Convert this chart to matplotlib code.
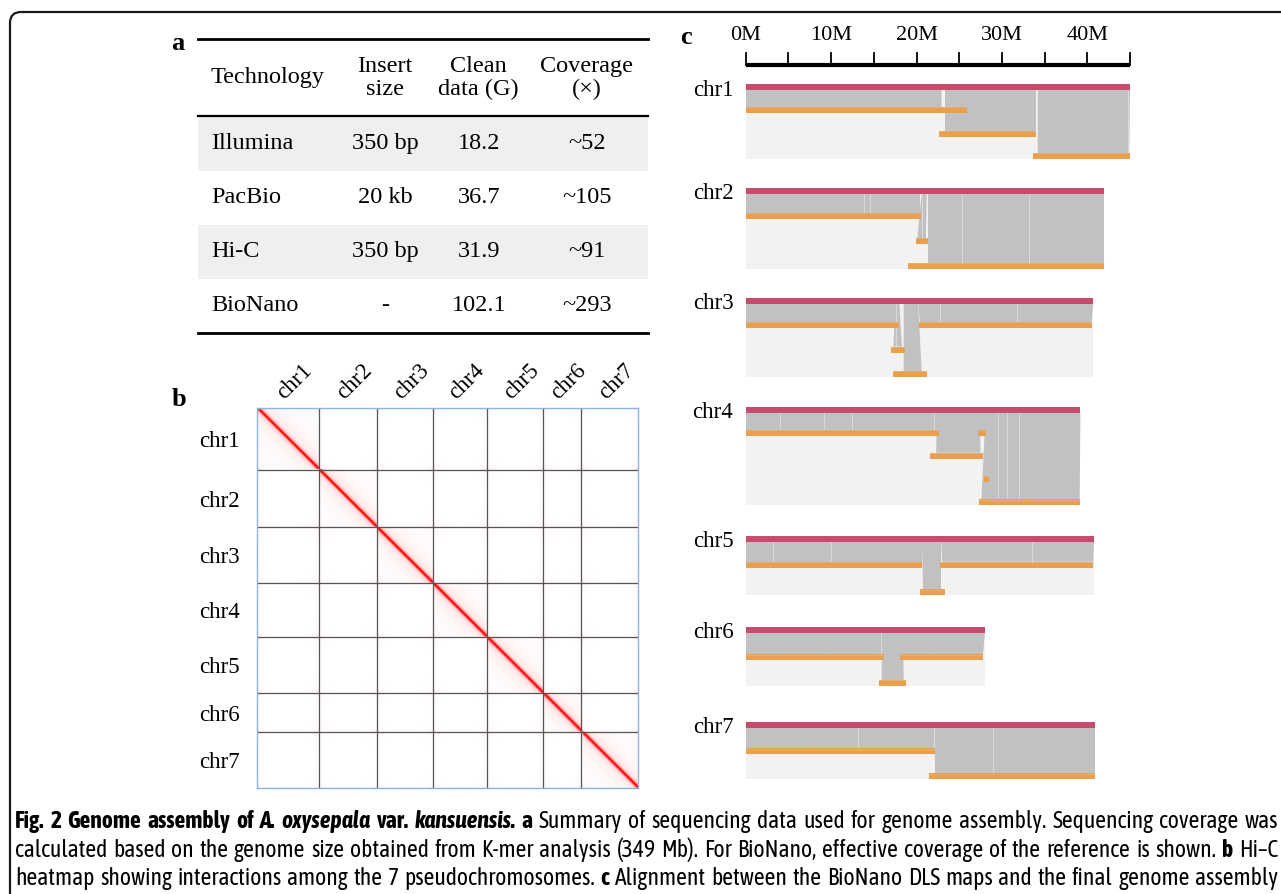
import numpy as np
import matplotlib
matplotlib.use("Agg")
import matplotlib.pyplot as plt
from matplotlib import font_manager
from matplotlib.patches import Rectangle, Polygon, FancyBboxPatch
from matplotlib.colors import LinearSegmentedColormap, PowerNorm

plt.rcParams['font.family'] = ['Liberation Serif', 'DejaVu Serif']

W, H = 1281, 894

# ---------------- data ----------------
# panel a: sequencing summary
headers = ['Technology', 'Insert\nsize', 'Clean\ndata (G)', 'Coverage\n(×)']
tech = ['Illumina', 'PacBio', 'Hi-C', 'BioNano']
insert_size = ['350 bp', '20 kb', '350 bp', '-']
clean_data = ['18.2', '36.7', '31.9', '102.1']
coverage = ['~52', '~105', '~91', '~293']

# chromosomes (Mb)
chroms = ['chr1', 'chr2', 'chr3', 'chr4', 'chr5', 'chr6', 'chr7']
chrom_len = [45.0, 42.0, 40.7, 39.2, 40.8, 28.0, 40.9]

# panel c: BioNano maps per chromosome
# (row, map start, map end, ref aln start, ref aln end, map aln start, map aln end)
maps = [
    [(0, 0.0, 25.9, 0.0, 23.0, 0.0, 23.0),
     (1, 22.6, 34.0, 23.3, 34.0, 23.3, 34.0),
     (2, 33.6, 45.0, 34.2, 45.0, 34.2, 44.9)],
    [(0, 0.0, 20.5, 0.0, 20.4, 0.0, 20.4),
     (1, 19.9, 21.3, 20.6, 21.2, 20.1, 21.1),
     (2, 19.0, 42.0, 21.3, 42.0, 21.3, 42.0)],
    [(0, 0.0, 17.9, 0.0, 17.5, 0.0, 17.5),
     (0, 20.3, 40.5, 20.2, 40.7, 20.4, 40.5),
     (1, 17.0, 18.6, 17.5, 18.0, 17.3, 18.3),
     (2, 17.3, 21.2, 18.5, 20.2, 18.5, 20.6)],
    [(0, 0.0, 22.6, 0.0, 22.4, 0.0, 22.4),
     (0, 27.2, 28.1, 27.3, 28.0, 27.3, 28.0),
     (1, 21.6, 27.8, 22.4, 27.4, 22.3, 27.5),
     (2, 27.9, 28.5, 28.0, 28.4, 28.0, 28.4),
     (3, 27.3, 39.1, 28.1, 39.2, 27.6, 39.1)],
    [(0, 0.0, 20.7, 0.0, 20.6, 0.0, 20.6),
     (0, 22.8, 40.7, 22.9, 40.8, 23.0, 40.7),
     (1, 20.4, 23.3, 20.7, 22.9, 20.8, 22.9)],
    [(0, 0.0, 16.2, 0.0, 16.2, 0.0, 16.2),
     (0, 18.1, 27.8, 18.1, 28.0, 18.2, 27.8),
     (1, 15.6, 18.8, 15.9, 18.4, 15.9, 18.5)],
    [(0, 0.0, 22.2, 0.0, 22.0, 0.0, 22.0),
     (1, 21.5, 40.9, 22.0, 40.9, 22.2, 40.9)],
]
# thin unaligned gaps (white slivers) inside the alignment blocks, Mb
gaps = [
    [22.9, 34.1, 44.8],
    [13.8, 14.6, 20.6, 25.3, 33.2],
    [17.6, 18.3, 22.8, 31.8],
    [4.0, 9.2, 12.5, 22.0, 29.5, 30.6, 32.0],
    [3.2, 10.0, 33.5],
    [15.9],
    [13.1, 22.1, 29.0],
]

caption = [
    [("Fig. 2 Genome assembly of", 'bold', 'normal'), ("A. oxysepala", 'bold', 'italic'),
     ("var.", 'bold', 'normal'), ("kansuensis.", 'bold', 'italic'), ("a", 'bold', 'normal'),
     ("Summary of sequencing data used for genome assembly. Sequencing coverage was", 'normal', 'normal')],
    [("calculated based on the genome size obtained from K-mer analysis (349 Mb). For BioNano, "
      "effective coverage of the reference is shown.", 'normal', 'normal'),
     ("b", 'bold', 'normal'), ("Hi–C", 'normal', 'normal')],
    [("heatmap showing interactions among the 7 pseudochromosomes.", 'normal', 'normal'),
     ("c", 'bold', 'normal'),
     ("Alignment between the BioNano DLS maps and the final genome assembly", 'normal', 'normal')],
]

# ---------------- layout (pixels) ----------------
track_top = [84, 187.7, 297.7, 406.7, 535.7, 626.7, 721.7]
row_top = [[107, 131, 153], [212.7, 238, 262.7], [322, 346.7, 371],
           [430, 452.7, 476, 499.3], [561.7, 589.3], [654.3, 680], [748.3, 773.3]]
red_h, orange_h = 6, 6

C_RED = '#c64b6c'
C_ORANGE = '#ea9f4f'
C_GRAY = '#c1c1c1'
C_BG = '#f3f2f0'


def px_rect(x0, y0, x1, y1):
    return [x0 / W, 1 - y1 / H, (x1 - x0) / W, (y1 - y0) / H]


fig = plt.figure(figsize=(W / 100, H / 100), dpi=100)

# background / frame axes in pixel units
ax_bg = fig.add_axes([0, 0, 1, 1], zorder=-1)
ax_bg.set_xlim(0, W)
ax_bg.set_ylim(H, 0)
ax_bg.axis('off')
ax_bg.add_patch(FancyBboxPatch((10, 12), 1300, 900, boxstyle='round,pad=0,rounding_size=11',
                               fill=False, lw=1.6, ec='#1a1a1a'))
for lab, (x, y) in zip('abc', [(178, 43), (179, 399), (686, 37)]):
    ax_bg.text(x, y, lab, fontsize=19, fontweight='bold', ha='center', va='center')

# ---------------- panel a: table ----------------
ax_t = fig.add_axes(px_rect(198, 39, 648, 333))
head_h = 1.43
ax_t.set_xlim(0, 1)
ax_t.set_ylim(head_h + len(tech), 0)
ax_t.axis('off')
col_x = [0.029, 0.416, 0.624, 0.864]
for i in range(len(tech)):
    if i % 2 == 0:
        ax_t.axhspan(head_h + i, head_h + i + 1, color='#efefef', lw=0)
ax_t.axhline(0, color='black', lw=2.0, clip_on=False)
ax_t.axhline(head_h, color='black', lw=1.6, clip_on=False)
ax_t.axhline(head_h + len(tech), color='black', lw=2.0, clip_on=False)
for j, h in enumerate(headers):
    ax_t.text(col_x[j], head_h / 2, h, fontsize=17.5, ha='left' if j == 0 else 'center',
              va='center', linespacing=1.12)
for i in range(len(tech)):
    y = head_h + i + 0.5
    ax_t.text(col_x[0], y, tech[i], fontsize=17.5, ha='left', va='center')
    ax_t.text(col_x[1], y, insert_size[i], fontsize=17.5, ha='center', va='center')
    ax_t.text(col_x[2], y, clean_data[i], fontsize=17.5, ha='center', va='center')
    ax_t.text(col_x[3], y, coverage[i], fontsize=17.5, ha='center', va='center')

# ---------------- panel b: Hi-C heatmap ----------------
bin_mb = 0.2
edges = np.concatenate([[0], np.cumsum(chrom_len)])
total = edges[-1]
centers = np.arange(0, total, bin_mb) + bin_mb / 2
cid = np.searchsorted(edges, centers, side='right') - 1
d = np.abs(centers[:, None] - centers[None, :])
same = cid[:, None] == cid[None, :]
de = np.minimum(centers - edges[cid], edges[cid + 1] - centers)
M = np.where(same, 1.3 * np.exp(-d / 0.9) + 0.22 * np.exp(-d / 4.0) + 0.06 * np.exp(-d / 15.0), 0.0)
M = M + 0.10 * np.exp(-(de[:, None] + de[None, :]) / 2.5)
M = np.clip(M, 0, 1)

ax_h = fig.add_axes(px_rect(256.7, 407.7, 637.7, 788.3))
cmap = LinearSegmentedColormap.from_list('hic', [(0, '#ffffff'), (0.25, '#ffdede'),
                                                 (0.6, '#ff6a6a'), (1, '#ff0000')])
ax_h.imshow(M, cmap=cmap, norm=PowerNorm(0.8, 0, 1), extent=[0, total, total, 0],
            interpolation='antialiased', aspect='auto')
for e in edges[1:-1]:
    ax_h.axvline(e, color='#555555', lw=0.9)
    ax_h.axhline(e, color='#555555', lw=0.9)
for s in ax_h.spines.values():
    s.set_color('#8db3e2')
    s.set_linewidth(1.0)
mids = (edges[:-1] + edges[1:]) / 2
ax_h.set_xticks(mids)
ax_h.set_yticks(mids)
ax_h.set_xticklabels(chroms, fontsize=16.5)
ax_h.set_yticklabels(chroms, fontsize=16.5)
ax_h.tick_params(length=0, top=True, labeltop=True, bottom=False, labelbottom=False, pad=3)
ax_h.tick_params(axis='y', pad=12)
plt.setp(ax_h.get_xticklabels(), rotation=45, ha='left', va='bottom', rotation_mode='anchor')

# ---------------- panel c: BioNano alignment ----------------
x0_px, x1_px = 745.7, 1130.0
ax_c = fig.add_axes([x0_px / W, 0, (x1_px - x0_px) / W, 1])
ax_c.set_xlim(0, 45)
ax_c.set_ylim(H, 0)
ax_c.axis('off')

ax_c.plot([0, 45], [64.5, 64.5], color='black', lw=3.0, solid_capstyle='butt', clip_on=False)
for t in np.arange(0, 46, 5):
    ax_c.plot([t, t], [53, 64.5], color='black', lw=1.3, clip_on=False)
for t in np.arange(0, 41, 10):
    ax_c.text(t, 35, f'{t}M', fontsize=16, ha='center', va='center')

for k, name in enumerate(chroms):
    L = chrom_len[k]
    top = track_top[k]
    rb = top + red_h
    rows = row_top[k]
    ax_c.text(-1.45, top + 6, name, fontsize=16.5, ha='right', va='center')
    ax_c.add_patch(Rectangle((0, rb), L, rows[-1] + orange_h - rb, color=C_BG, lw=0, zorder=1))
    for (r, m0, m1, t0, t1, b0, b1) in maps[k]:
        ry = rows[r]
        ax_c.add_patch(Polygon([(t0, rb), (t1, rb), (b1, ry), (b0, ry)], closed=True,
                               color=C_GRAY, lw=0, zorder=2))
    for g in gaps[k]:
        # sliver drawn down to the deepest alignment covering that position
        depth = max([rows[r] for (r, m0, m1, t0, t1, b0, b1) in maps[k] if t0 <= g <= t1] + [rb])
        ax_c.plot([g, g], [rb, depth], color='white', lw=0.6, alpha=0.45, zorder=2.5)
    for (r, m0, m1, t0, t1, b0, b1) in maps[k]:
        ry = rows[r]
        ax_c.add_patch(Rectangle((m0, ry), m1 - m0, orange_h, color=C_ORANGE, lw=0, zorder=3))
        ax_c.plot([m0, m1], [ry + 0.3, ry + 0.3], color='#c6ead6', lw=0.5, ls=(0, (1, 2)), zorder=4)
    ax_c.add_patch(Rectangle((0, top), L, red_h, color=C_RED, lw=0, zorder=4))

# ---------------- caption (justified) ----------------
renderer = fig.canvas.get_renderer()
cap_left, cap_right = 15, 1278
cap_base = [828, 857, 885]


def wnum(w):
    return w if isinstance(w, (int, float)) else font_manager.weight_dict.get(w, 400)


# prefer a condensed sans face that also has a bold weight
cands = {}
for f in font_manager.fontManager.ttflist:
    if ('Narrow' in f.name or 'Condensed' in f.name) and 'Serif' not in f.name \
            and 'Mono' not in f.name:
        cands.setdefault(f.name, []).append(wnum(f.weight))
cap_family = ['Liberation Sans', 'DejaVu Sans']
cap_stretch = 'normal'
bold_ok = [n for n, ws in cands.items() if max(ws) >= 600 and min(ws) <= 450]
if 'Liberation Sans Narrow' in bold_ok:
    cap_family = ['Liberation Sans Narrow', 'DejaVu Sans']
elif bold_ok:
    cap_family = [sorted(bold_ok)[0], 'DejaVu Sans']
else:
    for f in font_manager.fontManager.ttflist:
        if f.name == 'DejaVu Sans' and f.stretch == 'condensed':
            cap_family = ['DejaVu Sans']
            cap_stretch = 'condensed'
            break

tokens = []
for line in caption:
    toks = []
    for seg, wt, st in line:
        for w in seg.split(' '):
            toks.append((w, wt, st))
    tokens.append(toks)


def build(size):
    objs = []
    for li, toks in enumerate(tokens):
        row = []
        for w, wt, st in toks:
            t = fig.text(0, 1 - cap_base[li] / H, w, fontsize=size, fontweight=wt, fontstyle=st,
                         family=cap_family, fontstretch=cap_stretch, ha='left', va='baseline')
            row.append(t)
        objs.append(row)
    return objs


size = 17.0
while True:
    objs = build(size)
    ok = True
    widths = []
    for row in objs:
        ws = [t.get_window_extent(renderer).width for t in row]
        widths.append(ws)
        min_gap = 0.22 * size * 100 / 72
        if sum(ws) + min_gap * (len(ws) - 1) > cap_right - cap_left:
            ok = False
    if ok or size < 9:
        break
    for row in objs:
        for t in row:
            t.remove()
    size -= 0.25

for row, ws in zip(objs, widths):
    gap = (cap_right - cap_left - sum(ws)) / (len(ws) - 1)
    x = cap_left
    for t, w in zip(row, ws):
        t.set_x(x / W)
        x += w + gap

fig.savefig('out.png', dpi=100)
